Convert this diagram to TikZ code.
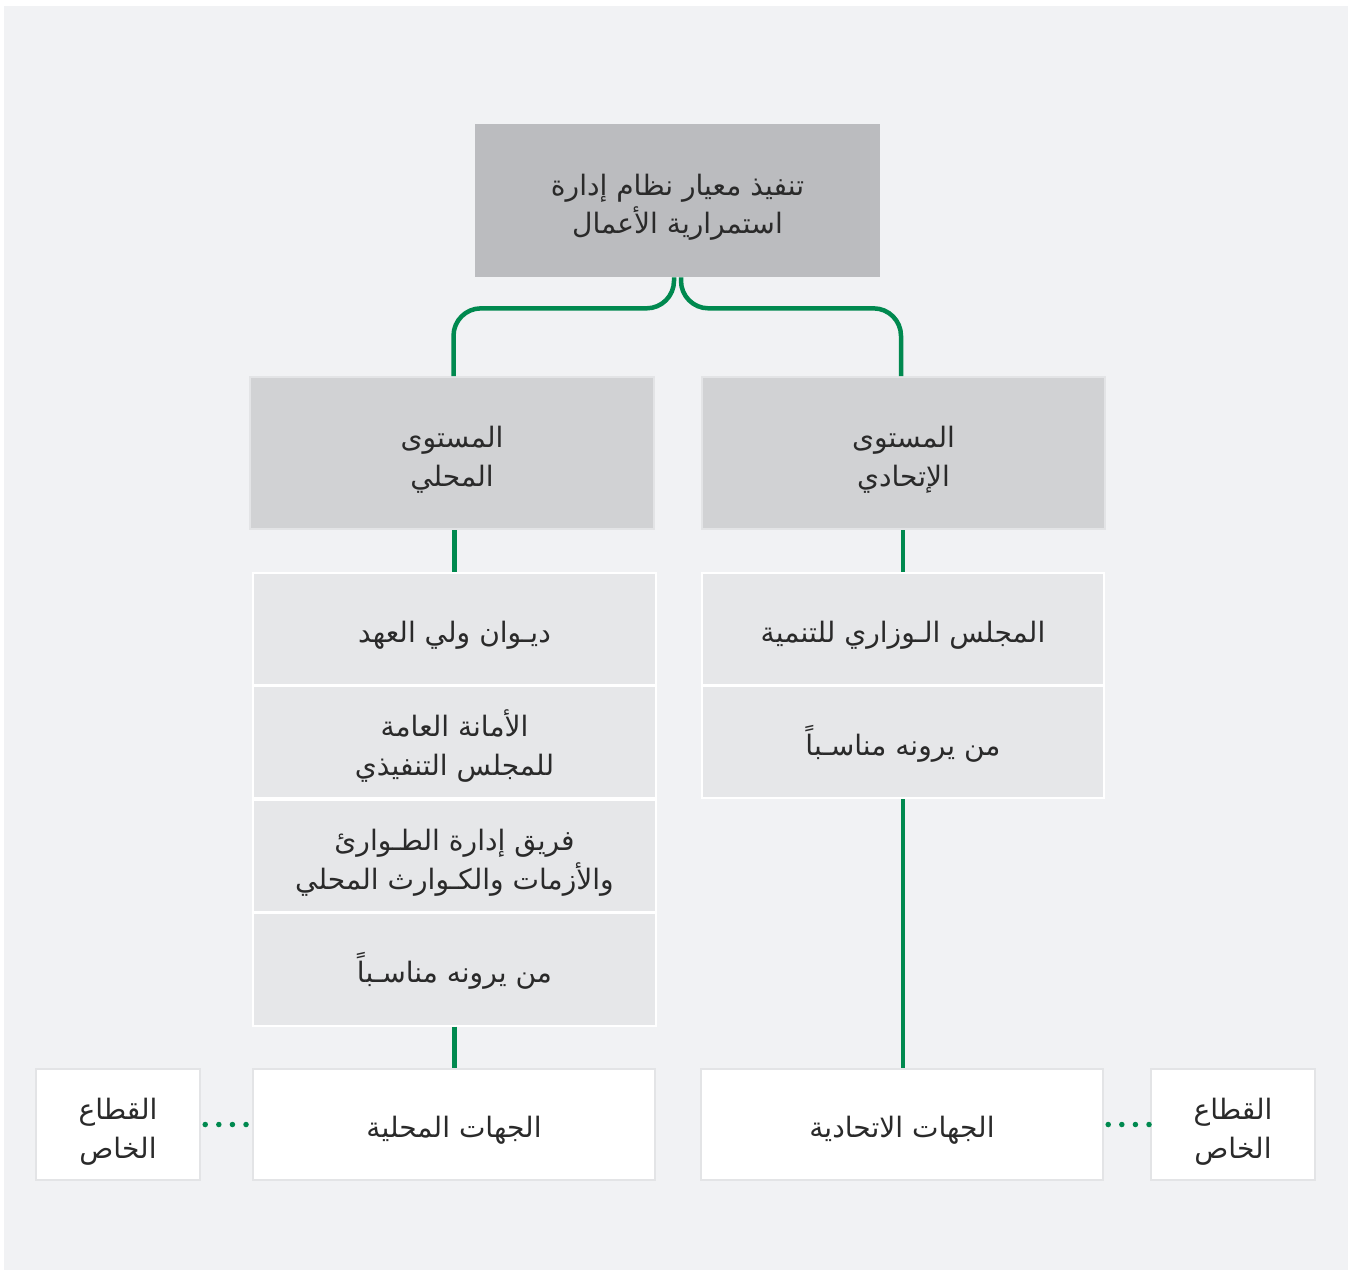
\documentclass[tikz,border=0pt]{standalone}
\usepackage{fontspec}
\newfontfamily\arabicfont[Script=Arabic]{DejaVu Sans}
\TeXXeTstate=1

\definecolor{panel}{HTML}{F1F2F4}
\definecolor{topgray}{HTML}{BBBCBF}
\definecolor{levelgray}{HTML}{D1D2D4}
\definecolor{listgray}{HTML}{E6E7E9}
\definecolor{edgegray}{HTML}{E3E4E6}
\definecolor{ink}{HTML}{2A2A2A}
\definecolor{govgreen}{HTML}{00894F}

\begin{document}
\begin{tikzpicture}[
    x=0.02cm, y=-0.02cm,
    box/.style={rectangle, inner sep=0pt, align=center, text=ink,
        font=\arabicfont\fontsize{16}{22}\selectfont,
        execute at begin node={\rule[-0.22cm]{0pt}{0.96cm}},
        execute at end node={\rule[-0.22cm]{0pt}{0.22cm}}},
    twoliner/.style={execute at begin node={\rule{0pt}{1.56cm}}},
    topnode/.style={box, twoliner, fill=topgray, minimum width=8.1cm, minimum height=3.06cm},
    levelnode/.style={box, twoliner, fill=levelgray, draw=edgegray, line width=0.04cm,
        minimum width=8.08cm, minimum height=3.04cm},
    listnode/.style={box, fill=listgray, draw=white, line width=0.04cm,
        minimum width=8.06cm, minimum height=2.26cm},
    entitynode/.style={box, fill=white, draw=edgegray, line width=0.05cm,
        minimum width=8.04cm, minimum height=2.22cm},
    privnode/.style={box, twoliner, fill=white, draw=edgegray, line width=0.05cm,
        minimum width=3.28cm, minimum height=2.22cm},
    link/.style={govgreen, line width=0.09cm},
    dots/.style={govgreen, line width=0.11cm, line cap=round,
        dash pattern=on 0pt off 0.272cm, shorten <=0.08cm}
]

% Background panel
\useasboundingbox (0,0) rectangle (1352,1274);
\fill[panel] (4,6) rectangle (1348,1270);

% Top
\node[topnode] (bcms) at (677.5,200.5)
    {\beginR تنفيذ معيار نظام إدارة\endR\\\beginR استمرارية الأعمال\endR};

% Levels
\node[levelnode] (fedlevel) at (903.5,453) {\beginR المستوى\endR\\\beginR الإتحادي\endR};
\node[levelnode] (loclevel) at (452,453) {\beginR المستوى\endR\\\beginR المحلي\endR};

% Federal list
\node[listnode] (fedA) at (903,629) {\beginR المجلس الـوزاري للتنمية\endR};
\node[listnode] (fedB) at (903,742) {\beginR من يرونه مناسـباً\endR};

% Local list
\node[listnode] (locA) at (454.5,629) {\beginR ديـوان ولي العهد\endR};
\node[listnode, twoliner] (locB) at (454.5,742) {\beginR الأمانة العامة\endR\\\beginR للمجلس التنفيذي\endR};
\node[listnode, twoliner] (locC) at (454.5,856) {\beginR فريق إدارة الطـوارئ\endR\\\beginR والأزمات والكـوارث المحلي\endR};
\node[listnode] (locD) at (454.5,969) {\beginR من يرونه مناسـباً\endR};

% Entities
\node[entitynode] (fedent) at (902,1124.5) {\beginR الجهات الاتحادية\endR};
\node[entitynode] (locent) at (454,1124.5) {\beginR الجهات المحلية\endR};
\node[privnode] (privR) at (1233,1124.5) {\beginR القطاع\endR\\\beginR الخاص\endR};
\node[privnode] (privL) at (118,1124.5) {\beginR القطاع\endR\\\beginR الخاص\endR};

% Connections: top -> levels
\draw[link, rounded corners=0.55cm] ([xshift=-0.07cm]bcms.south) -- ++(0,31) -| ([xshift=0.03cm]loclevel.north);
\draw[link, rounded corners=0.55cm] ([xshift=0.07cm]bcms.south) -- ++(0,31) -| ([xshift=-0.05cm]fedlevel.north);

% Connections: levels -> lists -> entities
\draw[link] (locA.north) -- (locA.north |- loclevel.south);
\draw[link] (fedA.north) -- (fedA.north |- fedlevel.south);
\draw[link] (locD.south) -- (locD.south |- locent.north);
\draw[link] (fedB.south) -- (fedB.south |- fedent.north);

% Private sector
\draw[dots] (privL.east) -- (locent.west);
\draw[dots] (fedent.east) -- (privR.west);

\end{tikzpicture}
\end{document}
